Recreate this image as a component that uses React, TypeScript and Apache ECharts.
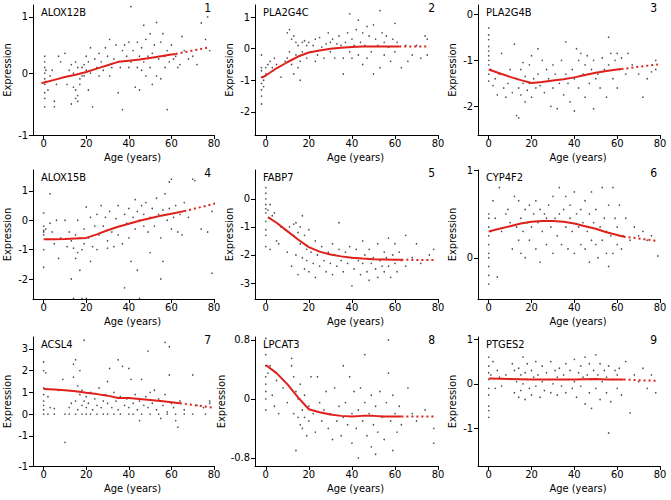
import React, { useEffect, useRef } from "react";
import * as echarts from "echarts";

type P = [number, number];

const geneNames = ["ALOX12B", "PLA2G4C", "PLA2G4B", "ALOX15B", "FABP7", "CYP4F2", "ACSL4", "LPCAT3", "PTGES2"];
const panelNumbers = ["1", "2", "3", "4", "5", "6", "7", "8", "9"];
const xTicks = [0, 20, 40, 60, 80];
const xTitle = "Age (years)";
const yTitle = "Expression";

const yMins = [-1.1, -2.73, -2.62, -2.68, -3.57, -0.47, -2.39, -0.91, -1.84];
const yMaxs = [1.21, 1.38, 0.2, 1.71, 1.03, 1.0, 3.55, 0.84, 1.05];
const yTickValues = [
  [-1.1, 0, 1], [-2, -1, 0, 1], [-2, -1, 0],
  [-2, -1, 0, 1], [-3, -2, -1, 0], [0, 1],
  [-2.39, -1, 0, 1, 2, 3], [-0.8, 0, 0.8], [-1, 0, 1],
];
const yTickLabels = [
  ["-1", "0", "1"], ["-2", "-1", "0", "1"], ["-2", "-1", "0"],
  ["-2", "-1", "0", "1"], ["-3", "-2", "-1", "0"], ["0", "1"],
  ["-1", "-1", "0", "1", "2", "3"], ["-0.8", "0", "0.8"], ["-1", "0", "1"],
];
// age where the fitted curve turns from solid to dotted
const solidUntil = [62, 62, 62, 66, 63, 63, 64, 63, 63];

const alox12bPoints: P[] = [[0.5,0.3],[0.5,0.2],[0.5,0.1],[0.5,0],[0.5,-0.1],[0.5,-0.2],[0.5,-0.35],[0.5,-0.45],[0.5,-0.6],[1,0.05],[1,-0.15],[2,-0.3],[3,-0.05],[4,0.05],[5,-0.5],[5,-0.6],[6,-0.2],[7,0.3],[8,0.2],[10,0.35],[11,-0.2],[12,0.05],[13,-0.55],[13,0.15],[14,-0.25],[14,0],[15,-0.3],[15,0.2],[15,-0.45],[16,-0.4],[16,-0.5],[16,0.1],[17,-0.2],[17,-0.1],[18,0.1],[18,-0.05],[19,0.15],[19,-0.05],[20,0.3],[20,0.05],[21,0.2],[21,-0.3],[22,0.45],[22,0],[23,-0.6],[24,0.25],[25,0.1],[26,0.35],[26,-0.05],[27,0.2],[28,0.05],[29,0.45],[30,0.3],[31,0.6],[31,-0.05],[32,0.1],[33,0.25],[34,0.5],[35,-0.35],[35,0.2],[36,0.1],[37,-0.65],[37,0.4],[38,0.5],[39,0.3],[40,0.55],[40,0.1],[41,1.18],[41,0.2],[42,0.4],[43,-0.25],[44,0.1],[44,0.55],[45,0.3],[45,-0.3],[46,0.05],[46,0.45],[47,0.85],[47,0.2],[48,0.6],[48,-0.05],[49,0.3],[50,0.1],[50,0.7],[51,0.35],[51,-0.2],[52,0.5],[53,0.9],[53,-0.05],[54,0.25],[55,0.55],[55,-0.1],[56,0.7],[57,0.3],[57,0.1],[58,-0.65],[58,0.4],[59,0.2],[60,0.5],[61,0.25],[62,0.3],[63,0.1],[64,0.15],[65,0.65],[66,0.4],[68,0.25],[70,0.3],[72,0.15],[74,0.89],[77,1.0],[76,0.6],[78,0.4]];
const alox12bTrend: P[] = [[-1,-0.18],[5,-0.12],[10,-0.07],[15,-0.03],[20,0.02],[25,0.08],[30,0.14],[35,0.2],[40,0.22],[45,0.24],[50,0.27],[55,0.3],[60,0.33],[62,0.34],[70,0.4],[78,0.46]];

const pla2g4cPoints: P[] = [[-2,-0.2],[-2,-0.6],[-2,-0.7],[-2,-0.9],[-2,-1.1],[-2,-1.3],[-2,-1.5],[-2,-1.75],[-1,-1.0],[-1,-1.2],[0,-0.8],[0,-0.6],[1,-0.5],[2,-0.4],[3,-0.6],[4,-0.3],[5,-0.5],[7,-0.9],[9,-0.4],[10,0.5],[10,-0.3],[11,0.6],[11,-0.1],[12,0.3],[12,-0.5],[13,0.4],[13,-0.8],[14,0.2],[14,-0.2],[15,-0.6],[15,0.1],[16,-0.4],[16,-1.0],[17,0.2],[17,-0.1],[18,0.25],[19,-0.3],[19,0.1],[20,0.2],[21,-0.1],[22,0.1],[23,0.3],[23,-0.4],[24,-0.2],[25,0.35],[26,0.05],[27,-0.3],[28,0.15],[29,0.5],[30,0.2],[30,-0.1],[31,0.3],[32,-0.3],[33,0.15],[34,0.4],[35,0.1],[36,-0.3],[36,-0.8],[37,0.2],[38,0.5],[39,1.1],[39,-0.1],[40,0.3],[40,-0.3],[41,0.1],[42,0.6],[43,-0.2],[43,0.9],[44,0.2],[45,0.5],[45,-0.5],[46,0.1],[47,-0.3],[47,0.7],[48,0.4],[49,-0.1],[50,0.75],[50,-0.8],[51,0.3],[52,0.1],[53,1.2],[53,-0.6],[54,0.5],[55,0.2],[55,-0.2],[56,0.4],[57,0.05],[58,-0.4],[59,0.3],[60,0.8],[60,-0.1],[61,0.2],[63,-0.6],[65,0.1],[66,-0.4],[68,-0.2],[70,0.1],[72,-0.3],[74,0.4],[75,0.3],[75,-0.2]];
const pla2g4cTrend: P[] = [[-2,-0.92],[0,-0.85],[5,-0.62],[10,-0.43],[15,-0.25],[20,-0.12],[25,-0.06],[30,0],[35,0.03],[40,0.05],[45,0.07],[50,0.07],[55,0.07],[60,0.07],[62,0.07],[70,0.07],[76,0.07]];

const pla2g4bPoints: P[] = [[0,-0.3],[0,-0.45],[0,-0.55],[0,-0.7],[0,-0.8],[0,-0.9],[0,-1.0],[0,-1.1],[0,-1.3],[0,-1.45],[1,-1.2],[2,-1.55],[3,-1.4],[4,-1.75],[5,-1.3],[6,-0.85],[7,-1.6],[8,-1.8],[9,-1.5],[10,-1.2],[11,-1.7],[12,-0.65],[13,-2.2],[13,-1.4],[14,-2.25],[14,-1.6],[15,-1.2],[15,-1.75],[16,-1.05],[16,-1.5],[17,-1.9],[17,-1.35],[18,-1.65],[19,-1.1],[19,-1.5],[20,-0.9],[20,-1.8],[21,-1.4],[22,-1.6],[23,-0.75],[23,-1.3],[24,-1.55],[25,-1.0],[26,-1.7],[27,-1.2],[28,-1.4],[29,-2.0],[30,-1.1],[30,-1.6],[31,-1.3],[32,-2.05],[33,-1.5],[34,-1.0],[35,-1.75],[36,-0.6],[36,-1.3],[37,-1.5],[38,-1.9],[39,-1.2],[40,-2.1],[40,-1.4],[41,-0.75],[42,-1.0],[42,-1.6],[43,-0.85],[44,-1.3],[45,-1.8],[45,-1.1],[46,-0.9],[47,-1.5],[48,-1.2],[49,-2.05],[49,-1.0],[50,-1.4],[51,-1.3],[52,-1.6],[53,-0.95],[54,-1.2],[55,-1.8],[56,-0.5],[56,-1.1],[57,-0.85],[58,-1.4],[59,-1.0],[60,-0.85],[60,-1.6],[61,-1.2],[62,-0.95],[64,-1.3],[65,-0.85],[67,-1.1],[70,-1.3],[72,-1.8],[74,-1.4],[76,-1.25],[78,-1.0],[78,-1.2]];
const pla2g4bTrend: P[] = [[0,-1.2],[5,-1.28],[10,-1.36],[15,-1.43],[20,-1.49],[25,-1.47],[30,-1.44],[35,-1.41],[40,-1.37],[45,-1.32],[50,-1.27],[55,-1.23],[60,-1.2],[62,-1.19],[70,-1.14],[79,-1.09]];

const alox15bPoints: P[] = [[0,0.25],[0,-0.2],[0,-0.35],[0,-0.4],[0,-0.5],[0,-1.0],[0,-1.6],[1,-0.3],[2,-0.65],[3,0.9],[3,-0.1],[4,-0.4],[5,-0.8],[6,0],[7,-1.3],[8,-0.6],[10,0],[11,-0.9],[12,-0.4],[13,-2.0],[13,-0.7],[14,-0.95],[14,-2.66],[15,-0.5],[15,-1.3],[16,-1.1],[16,0],[17,-1.7],[17,-0.6],[18,-1.0],[18,-2.66],[19,-0.3],[19,-0.8],[20,-2.66],[20,0.45],[21,-0.6],[22,0.1],[22,-1.4],[23,-0.9],[24,-0.2],[25,0.2],[25,-1.0],[26,-0.5],[27,0.5],[28,-0.2],[29,0.1],[30,-0.7],[30,-0.95],[31,0.3],[32,-0.4],[33,-0.9],[34,0.05],[35,0.5],[35,-0.5],[36,-0.2],[37,-0.8],[38,0.2],[38,-2.3],[39,-0.1],[40,0.4],[40,-0.6],[41,-1.4],[42,0.1],[43,0.7],[43,-0.3],[44,0.3],[44,-1.7],[45,0],[45,-2.66],[46,0.5],[47,-0.2],[47,0.2],[48,0.6],[49,-0.4],[50,0.1],[50,-1.1],[51,0.4],[52,-0.2],[53,0.75],[54,0.2],[55,-0.6],[55,-2.0],[56,0.35],[56,-1.4],[57,0.9],[58,0],[59,1.3],[59,0.4],[60,1.4],[60,-0.3],[61,0.1],[62,0.5],[63,-0.4],[64,0.2],[65,-0.5],[66,0.6],[68,0.1],[70,1.4],[71,1.35],[74,-0.3],[77,-0.4],[79,-1.8],[79,0.3]];
const alox15bTrend: P[] = [[0,-0.65],[5,-0.65],[10,-0.64],[15,-0.62],[20,-0.6],[25,-0.48],[30,-0.34],[35,-0.22],[40,-0.12],[45,-0.02],[50,0.07],[55,0.15],[60,0.22],[66,0.31],[74,0.45],[81,0.58]];

const fabp7Points: P[] = [[0,0.4],[0,0.2],[0,0],[0,-0.2],[0,-0.35],[0,-0.5],[0,-0.8],[0,-1.1],[0,-1.3],[0,-1.7],[1,-0.4],[2,-0.2],[2,-1.8],[3,-0.6],[4,-0.5],[5,-1.5],[6,-1.6],[7,-1.0],[9,-1.1],[10,-1.9],[11,-1.0],[12,-2.4],[13,-1.3],[13,-0.9],[14,-0.85],[14,-2.0],[15,-1.2],[15,-2.7],[16,-1.0],[16,-1.6],[17,-0.6],[17,-2.1],[18,-1.3],[18,-2.5],[19,-1.8],[19,-2.2],[20,-1.1],[20,-2.6],[21,-1.9],[22,-2.3],[23,-1.5],[23,-2.8],[24,-2.0],[25,-2.4],[26,-1.7],[27,-2.2],[28,-2.6],[29,-1.9],[30,-2.3],[31,-1.6],[31,-2.7],[32,-2.0],[33,-2.4],[34,-0.85],[34,-1.8],[35,-2.2],[36,-2.6],[37,-1.9],[38,-2.3],[39,-1.7],[40,-3.1],[40,-2.1],[41,-2.5],[42,-1.8],[43,-2.2],[44,-2.7],[45,-1.5],[45,-2.3],[46,-2.0],[47,-2.6],[48,-2.9],[48,-1.8],[49,-2.3],[50,-2.1],[51,-2.5],[52,-1.6],[52,-2.8],[53,-2.2],[54,-2.4],[55,-1.9],[55,-2.6],[56,-2.1],[57,-1.4],[57,-2.4],[58,-2.8],[59,-2.0],[60,-1.6],[60,-2.3],[61,-2.6],[62,-1.9],[63,-2.2],[65,-1.3],[65,-2.4],[68,-2.1],[70,-1.6],[72,-2.3],[76,-2.0],[78,-1.8]];
const fabp7Trend: P[] = [[1,-0.65],[5,-0.85],[10,-1.15],[15,-1.45],[20,-1.72],[25,-1.88],[30,-1.98],[35,-2.05],[40,-2.1],[45,-2.13],[50,-2.15],[55,-2.16],[60,-2.17],[63,-2.17],[70,-2.18],[78,-2.18]];

const cyp4f2Points: P[] = [[0,0.5],[0,0.45],[0,0.35],[0,0.25],[0,0.15],[0,0.05],[0,0],[0,-0.1],[0,-0.2],[0,-0.3],[1,0.3],[2,0.65],[3,0.45],[4,-0.22],[5,0.8],[6,0.3],[8,0.5],[9,0.55],[10,0.4],[11,0.1],[12,0.7],[13,0.35],[14,0.65],[14,0.2],[15,0.05],[15,0.45],[16,0.3],[17,0.55],[17,0],[18,0.4],[19,0.2],[19,0.6],[20,0.35],[21,0.5],[22,0.1],[22,0.65],[23,0.4],[24,-0.05],[24,0.55],[25,0.3],[26,0.5],[27,0.15],[27,0.45],[28,0.6],[29,0.35],[30,0.05],[30,0.7],[31,0.45],[32,0.25],[33,0.8],[33,0.5],[34,0.15],[35,0.55],[36,0.7],[36,0.35],[37,0.1],[38,0.6],[38,0.45],[39,0.3],[40,0.75],[40,0.05],[41,0.5],[42,0.35],[43,0.15],[43,0.55],[44,0.4],[45,0.65],[45,0.1],[46,0.3],[47,-0.05],[47,0.5],[48,0.2],[48,0.75],[49,0.4],[50,0.15],[50,0.55],[51,0],[52,0.35],[53,0.8],[53,0.2],[54,0.45],[55,0.05],[55,0.3],[56,-0.1],[56,0.6],[57,0.25],[58,0.05],[58,0.8],[59,0.45],[60,0.15],[60,0.35],[61,0.6],[62,0.1],[63,0.25],[64,0.45],[66,0.2],[68,0.35],[70,0.25],[72,0.3],[74,0.2],[76,0.25],[79,0.02]];
const cyp4f2Trend: P[] = [[0,0.3],[5,0.33],[10,0.36],[15,0.39],[20,0.41],[25,0.42],[30,0.42],[35,0.41],[40,0.39],[45,0.36],[50,0.33],[55,0.29],[60,0.26],[63,0.24],[70,0.22],[79,0.19]];

const acsl4Points: P[] = [[0,0],[2,0],[5,0],[10,0],[12,0],[15,0],[18,0],[20,0],[22,0],[25,0],[28,0],[30,0],[33,0],[36,0],[40,0],[42,0],[46,0],[50,0],[54,0],[58,0],[62,0],[66,0],[70,0],[76,0],[0,2.4],[0,2.0],[0,1.2],[0,0.9],[0,0.6],[0,0.4],[0,0.2],[1,1.9],[2,0.8],[3,0.3],[5,0.25],[7,1.1],[9,1.6],[10,-1.3],[12,0.3],[13,0.5],[14,1.7],[14,2.3],[15,2.5],[15,0.6],[16,1.3],[16,0.2],[17,2.0],[17,0.9],[18,0.4],[18,1.1],[19,3.4],[19,0.6],[20,0.3],[20,0.8],[21,0.5],[22,1.0],[23,0.2],[24,0.7],[25,0.4],[26,1.2],[27,0.3],[28,0.6],[29,0.9],[30,0.5],[30,1.5],[31,2.1],[32,0.3],[33,1.0],[34,0.6],[35,2.5],[35,0.2],[36,0.8],[37,2.2],[38,0.4],[39,0.7],[40,2.1],[40,0.3],[41,1.6],[42,0.5],[43,0.9],[44,0.2],[45,0.6],[45,-0.3],[46,1.6],[47,0.4],[48,0.8],[49,2.9],[49,0.3],[50,1.0],[51,0.5],[52,1.1],[53,0.2],[54,0.7],[55,-0.2],[56,0.4],[57,3.3],[57,0.9],[58,0.1],[59,1.8],[59,3.1],[60,0.5],[61,0.3],[62,-0.3],[63,-0.6],[64,0.6],[66,0.2],[70,1.8],[72,0.4],[75,0.3],[78,0.5],[78,0.6]];
const acsl4Trend: P[] = [[0,1.15],[5,1.13],[10,1.1],[15,1.05],[20,0.98],[25,0.92],[30,0.85],[35,0.74],[40,0.74],[45,0.7],[50,0.65],[55,0.6],[60,0.55],[64,0.5],[72,0.4],[79,0.3]];

const lpcat3Points: P[] = [[0,0.82],[0,0.7],[0,0.6],[0,0.45],[0,0.3],[0,0.2],[0,0.1],[0,0],[0,-0.15],[1,0.35],[2,0.45],[3,0.05],[4,-0.1],[5,0.25],[6,-0.2],[8,0.15],[10,-0.05],[12,0.55],[12,0.45],[13,0.3],[13,-0.2],[14,-0.7],[14,0.1],[15,-0.25],[15,0],[16,-0.35],[16,0.2],[17,-0.15],[17,-0.4],[18,0.05],[18,-0.25],[19,-0.5],[20,-0.1],[20,-0.3],[21,0.3],[22,-0.2],[23,-0.45],[24,0.3],[25,-0.05],[26,-0.3],[27,-0.15],[28,0.1],[29,-0.4],[30,-0.2],[31,-0.55],[32,0.15],[33,-0.3],[34,-0.1],[35,-0.5],[36,0.45],[36,-0.25],[37,-0.05],[38,-0.35],[39,0.3],[40,-0.2],[40,-0.6],[41,0.1],[42,-0.4],[43,-0.8],[43,-0.15],[44,0.15],[45,-0.3],[46,0.6],[46,-0.05],[47,-0.5],[48,-0.2],[49,0.05],[49,-0.65],[50,-0.35],[51,-0.75],[51,-0.1],[52,-0.45],[53,0.1],[54,-0.25],[55,-0.55],[56,-0.05],[57,0.35],[57,0.8],[58,-0.3],[59,-0.7],[59,0.05],[60,-0.2],[61,-0.45],[62,-0.1],[63,-0.35],[66,0.15],[68,-0.2],[70,-0.3],[74,-0.15],[78,-0.4],[78,-0.6]];
const lpcat3Trend: P[] = [[0,0.46],[5,0.35],[10,0.2],[15,0.02],[20,-0.14],[25,-0.18],[30,-0.21],[35,-0.23],[40,-0.24],[45,-0.23],[50,-0.23],[55,-0.24],[60,-0.24],[63,-0.24],[70,-0.24],[79,-0.24]];

const ptges2Points: P[] = [[0,0.6],[0,0.4],[0,0.25],[0,0.1],[0,-0.1],[0,-0.25],[0,-0.5],[0,-0.6],[0,-0.75],[1,0.2],[2,0.5],[3,-0.1],[4,0.3],[5,0.15],[6,-0.05],[8,0.2],[10,0.1],[11,0.45],[12,-0.2],[12,0.3],[13,0.05],[14,-0.3],[14,0.35],[15,0.2],[15,-0.15],[16,0.6],[16,0],[17,0.25],[17,-0.35],[18,0.1],[18,0.45],[19,-0.1],[20,0.3],[20,-0.25],[21,0.15],[22,0.5],[22,-0.05],[23,0.2],[24,-0.3],[25,0.4],[25,0.05],[26,-0.15],[27,0.25],[28,0.1],[29,-0.2],[29,0.5],[30,0],[31,0.3],[32,-0.25],[32,0.15],[33,0.35],[34,-0.05],[35,0.2],[36,0.45],[36,-0.2],[37,0.1],[38,0.3],[39,-0.1],[40,0.55],[40,0.05],[41,-0.3],[42,0.25],[43,0.4],[43,-0.05],[44,0.15],[45,-0.45],[45,0.6],[46,0.2],[47,-0.2],[47,0.45],[48,-0.55],[48,0.1],[49,0.3],[50,-0.1],[50,0.65],[51,0.2],[52,-0.35],[52,0.45],[53,0.05],[54,0.3],[55,-0.2],[55,0.15],[56,-1.1],[56,0.4],[57,-0.4],[58,0.1],[59,0.3],[60,-0.1],[60,0.2],[61,0.35],[62,-0.25],[64,0.5],[66,-0.65],[68,0.2],[70,0.05],[72,0.35],[74,-0.1],[76,0.2],[78,-0.2]];
const ptges2Trend: P[] = [[0,0.12],[10,0.11],[20,0.1],[30,0.1],[40,0.1],[50,0.11],[55,0.1],[60,0.1],[63,0.1],[70,0.08],[79,0.07]];

const allPoints = [alox12bPoints, pla2g4cPoints, pla2g4bPoints, alox15bPoints, fabp7Points, cyp4f2Points, acsl4Points, lpcat3Points, ptges2Points];
const allTrends = [alox12bTrend, pla2g4cTrend, pla2g4bTrend, alox15bTrend, fabp7Trend, cyp4f2Trend, acsl4Trend, lpcat3Trend, ptges2Trend];

// layout (pixels)
const colLeft = [33, 255, 478];
const colWidth = [181, 183, 182];
const rowTop = [5, 170, 337];
const rowHeight = [130, 129, 129];

const FONT = "'DejaVu Sans Condensed', 'DejaVu Sans', sans-serif";
const RED = "#e0201b";

export default function App() {
  const ref = useRef<HTMLDivElement>(null);
  useEffect(() => {
    if (!ref.current) return;
    const chart = echarts.init(ref.current, null, { renderer: "svg" });
    const grids: any[] = [];
    const xAxes: any[] = [];
    const yAxes: any[] = [];
    const series: any[] = [];
    const graphics: any[] = [];
    for (let i = 0; i < 9; i++) {
      const r = Math.floor(i / 3);
      const c = i % 3;
      const left = colLeft[c], top = rowTop[r], w = colWidth[c], h = rowHeight[r];
      grids.push({ left, top, width: w, height: h, containLabel: false });
      xAxes.push({
        type: "value", gridIndex: i, min: -5, max: 80,
        axisLine: { show: true, onZero: false, lineStyle: { color: "#000", width: 1 } },
        axisTick: { show: true, length: 4, customValues: xTicks, lineStyle: { color: "#000" } },
        axisLabel: { customValues: xTicks, color: "#000", fontSize: 11, fontFamily: FONT, fontWeight: "normal", margin: 3 },
        splitLine: { show: false },
        name: xTitle, nameLocation: "middle", nameGap: 17,
        nameTextStyle: { color: "#000", fontSize: 11, fontFamily: FONT, fontWeight: "normal", padding: [0, 0, 0, 18] },
      });
      const tv = yTickValues[i], tl = yTickLabels[i];
      yAxes.push({
        type: "value", gridIndex: i, min: yMins[i], max: yMaxs[i],
        axisLine: { show: true, onZero: false, lineStyle: { color: "#000", width: 1 } },
        axisTick: { show: true, length: 4, customValues: tv, lineStyle: { color: "#000" } },
        axisLabel: {
          customValues: tv, color: "#000", fontSize: 11, fontFamily: FONT, fontWeight: "normal", margin: 5,
          formatter: (v: number) => {
            const k = tv.findIndex((t) => Math.abs(t - v) < 1e-6);
            return k >= 0 ? tl[k] : "";
          },
        },
        splitLine: { show: false },
        name: yTitle, nameLocation: "middle", nameGap: 20,
        nameTextStyle: { color: "#000", fontSize: 11, fontFamily: FONT, fontWeight: "normal" },
      });
      series.push({
        type: "scatter", xAxisIndex: i, yAxisIndex: i, data: allPoints[i],
        symbol: "circle", symbolSize: 1.6, itemStyle: { color: "#222" }, silent: true,
      });
      const cut = solidUntil[i];
      series.push({
        type: "line", xAxisIndex: i, yAxisIndex: i,
        data: allTrends[i].filter((p) => p[0] <= cut),
        showSymbol: false, lineStyle: { color: RED, width: 2 }, silent: true,
      });
      series.push({
        type: "line", xAxisIndex: i, yAxisIndex: i,
        data: allTrends[i].filter((p) => p[0] >= cut),
        showSymbol: false, lineStyle: { color: RED, width: 2, type: [2, 3] }, silent: true,
      });
      graphics.push({
        type: "text", left: left + 8, top: top + 2,
        style: { text: geneNames[i], fill: "#000", fontSize: 11, fontFamily: FONT, fontWeight: "normal" },
      });
      graphics.push({
        type: "text", right: 671 - (left + w - 3), top: top - 3,
        style: { text: panelNumbers[i], fill: "#000", fontSize: 12, fontFamily: FONT, fontWeight: "normal" },
      });
    }
    chart.setOption({
      animation: false,
      backgroundColor: "#fff",
      grid: grids,
      xAxis: xAxes,
      yAxis: yAxes,
      series,
      graphic: graphics,
    });
    return () => chart.dispose();
  }, []);
  return <div ref={ref} style={{ position: "absolute", left: 0, top: 0, width: 671, height: 500 }} />;
}
